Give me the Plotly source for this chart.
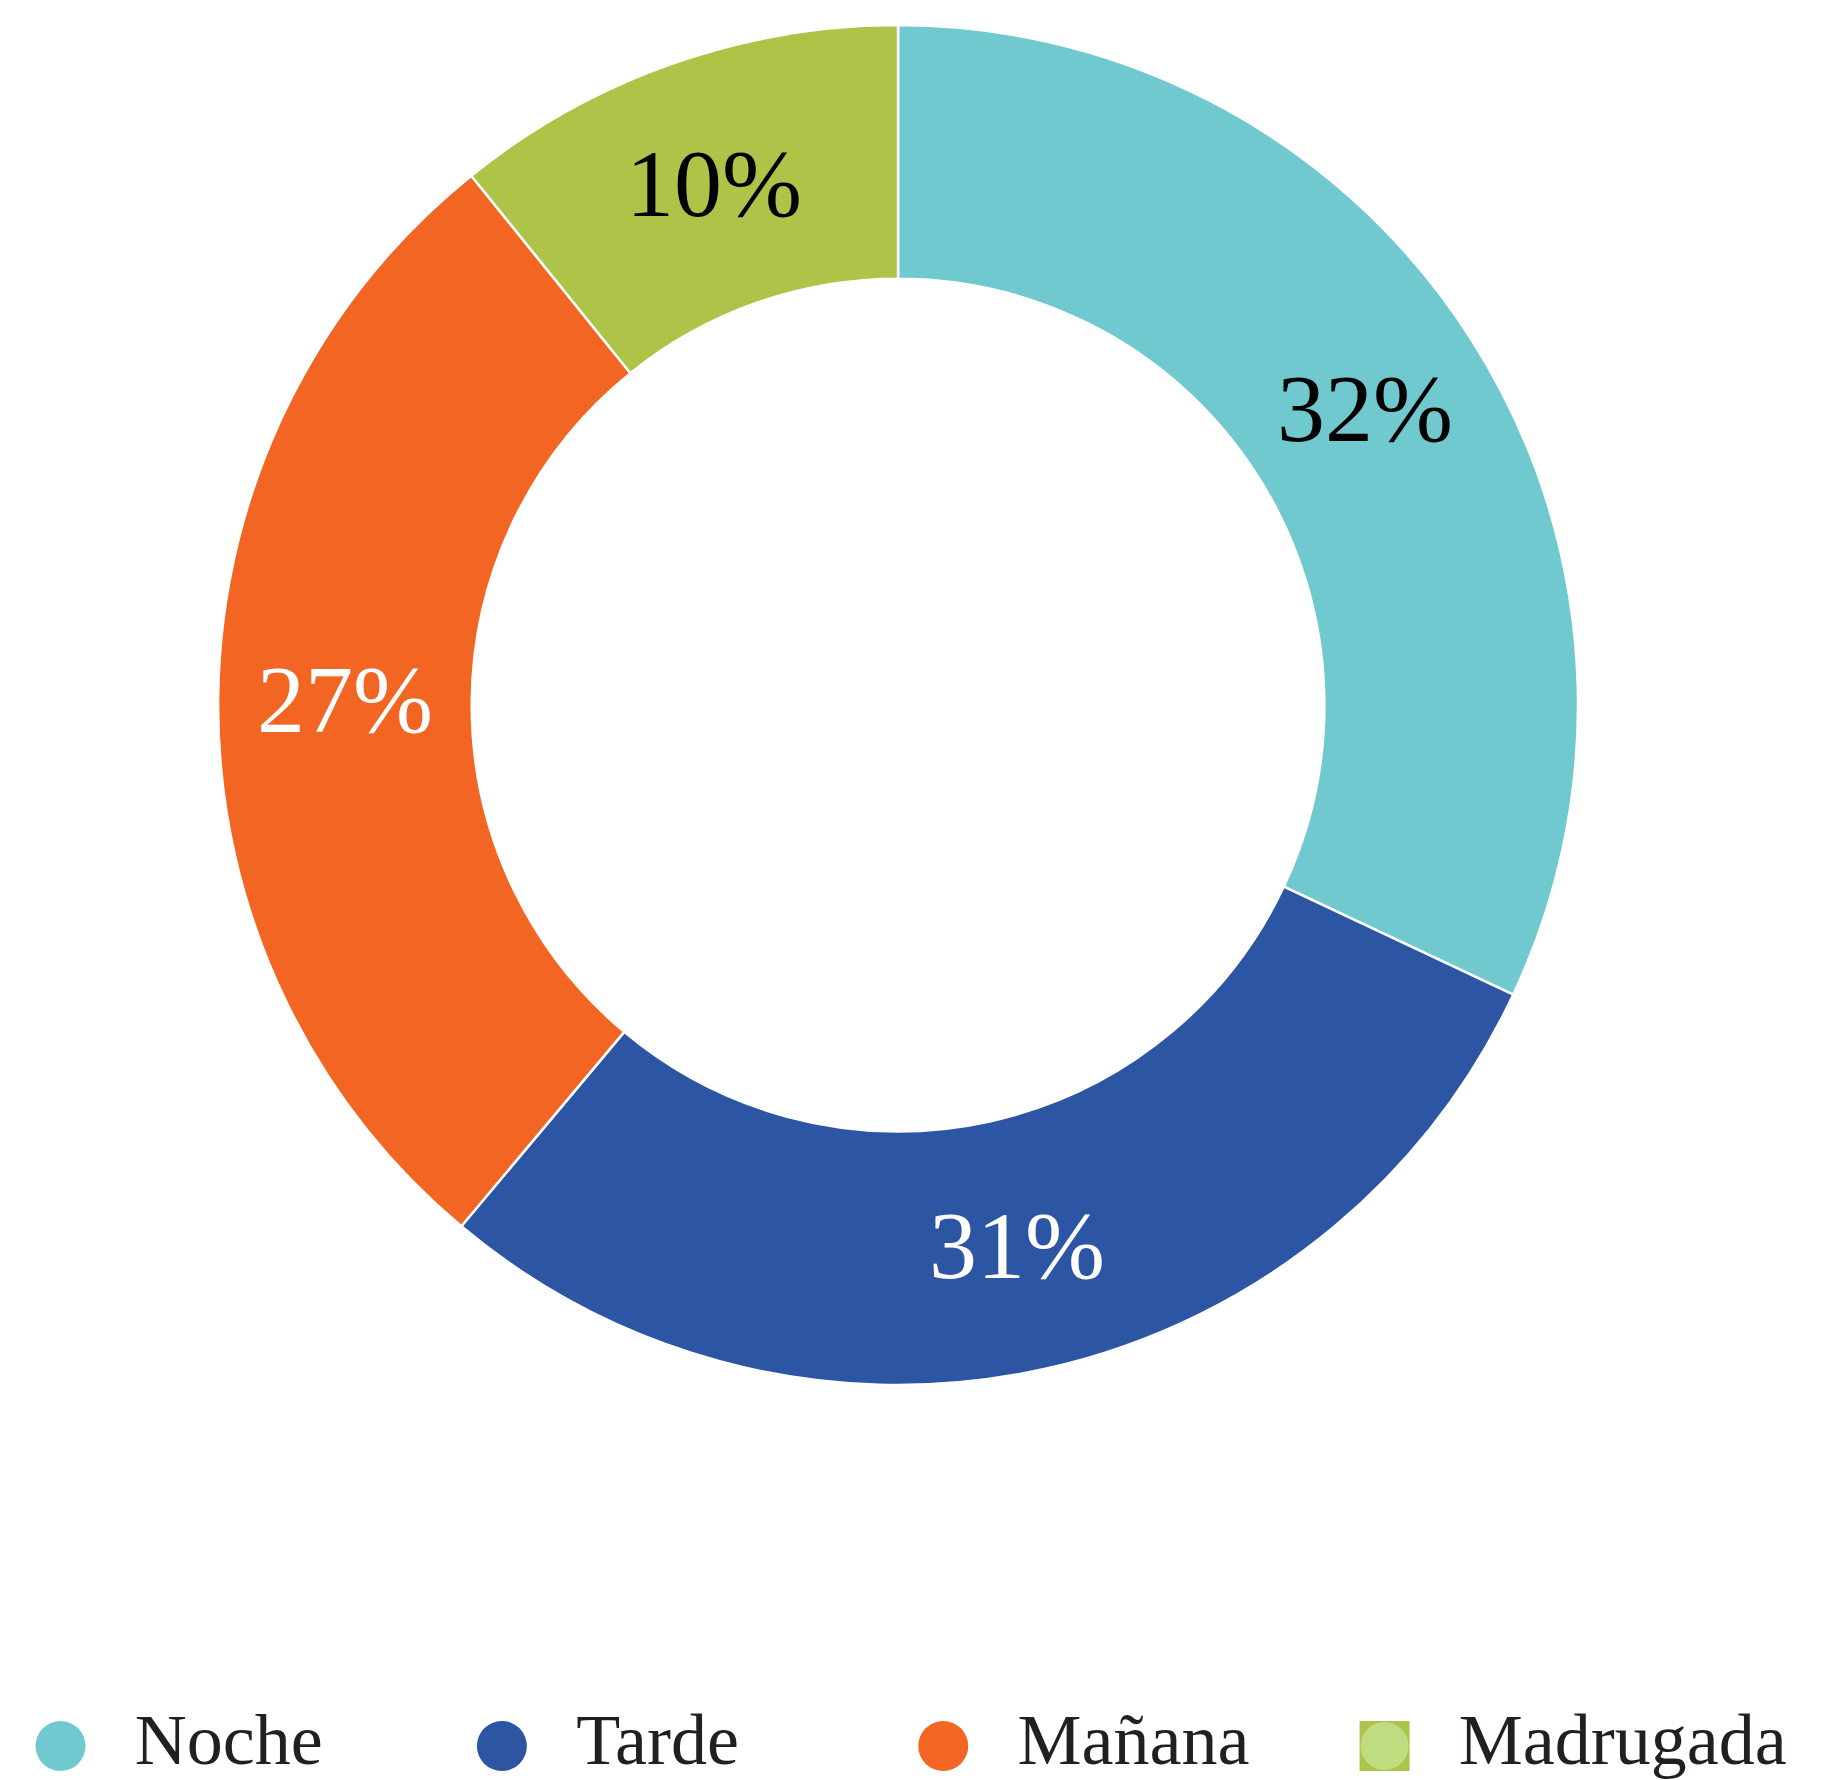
import plotly.graph_objects as go

labels = ["Noche", "Tarde", "Mañana", "Madrugada"]
values = [32.0, 29.1, 28.1, 10.8]
pct_text = ["32%", "31%", "27%", "10%"]
colors = ["#6FC9CE", "#2C55A3", "#F26522", "#ADC448"]
text_colors = ["#000000", "#FFFFFF", "#FFFFFF", "#000000"]

FONT = "Liberation Serif"

fig = go.Figure()
fig.add_trace(go.Pie(
    labels=labels, values=values, text=pct_text, textinfo="text",
    sort=False, direction="clockwise", rotation=0, hole=0.627,
    marker=dict(colors=colors, line=dict(color="#FFFFFF", width=2.5)),
    textposition="inside", insidetextorientation="horizontal",
    textfont=dict(family=FONT, size=96, color=text_colors),
    domain=dict(x=[0.1151, 0.8603], y=[0.2264, 0.9904]),
    showlegend=False, hoverinfo="label+percent",
))

# legend drawn as a row of big markers on a hidden axis
symbols = ["circle", "circle", "circle", "square"]
fig.add_trace(go.Scatter(
    x=labels, y=[0] * len(labels), mode="markers+text",
    text=["\u2002\u200a" + l for l in labels], textposition="middle right",
    marker=dict(symbol=symbols, size=50, color=colors),
    textfont=dict(family=FONT, size=72, color="#231F20"),
    showlegend=False, hoverinfo="skip", cliponaxis=False,
))
fig.add_trace(go.Scatter(
    x=labels[-1:], y=[0], mode="markers",
    marker=dict(symbol="circle", size=48, color="#C0DC80"),
    showlegend=False, hoverinfo="skip", cliponaxis=False,
))

fig.update_layout(
    width=1825, height=1780,
    margin=dict(l=0, r=0, t=0, b=0),
    paper_bgcolor="#FFFFFF", plot_bgcolor="rgba(0,0,0,0)",
    xaxis=dict(type="category", range=[-0.119, 4.016], domain=[0, 1],
               visible=False, fixedrange=True),
    yaxis=dict(range=[-1, 1], domain=[0, 0.0472], visible=False, fixedrange=True),
    font=dict(family=FONT),
)

fig.write_html("out.html")
